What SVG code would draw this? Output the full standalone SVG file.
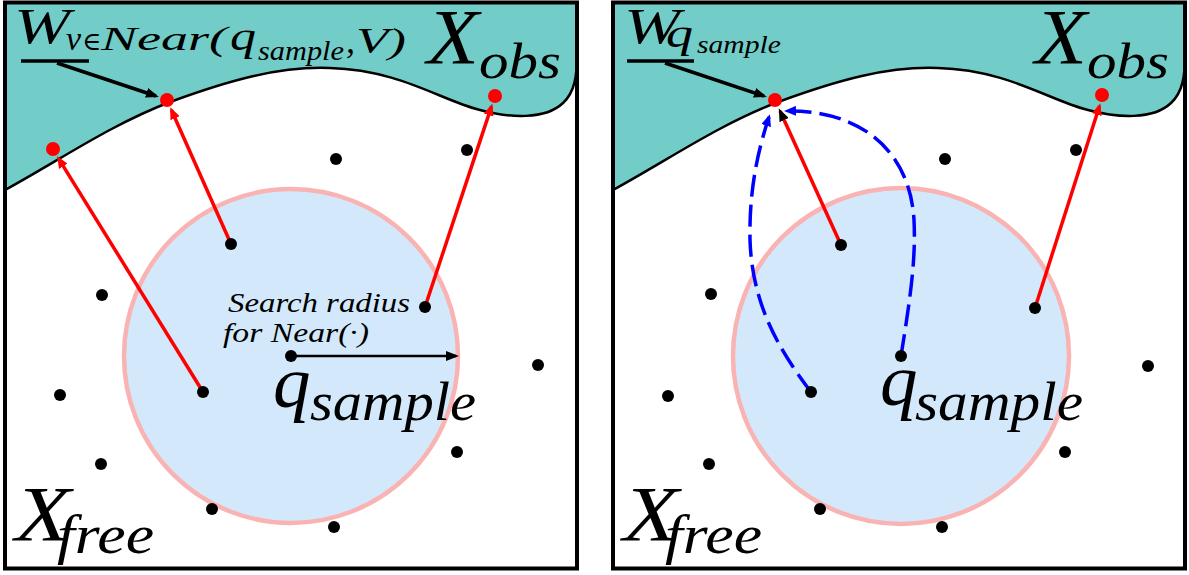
<svg xmlns="http://www.w3.org/2000/svg" width="1189" height="575" viewBox="0 0 1189 575">
<style>
.teal{fill:#72cdc8;stroke:none}
.edge{fill:none;stroke:#000;stroke-width:2.5}
.frame{fill:none;stroke:#000;stroke-width:4}
.ball{fill:#d3e9fb;stroke:#f9b3b3;stroke-width:4.5}
.dot{fill:#000}
.rdot{fill:#ff0000}
.red{stroke:#ff0000;stroke-width:3.5;fill:none}
.blk{stroke:#000;stroke-width:3.5;fill:none}
.rad{stroke:#000;stroke-width:2.5;fill:none}
.blue{stroke:#0000ff;stroke-width:3.5;fill:none;stroke-dasharray:22 8}
</style>
<defs>
<marker id="ahRed" markerUnits="userSpaceOnUse" markerWidth="12" markerHeight="10" viewBox="0 0 12 10" refX="9" refY="5" orient="auto"><path d="M0,0 L12,5 L0,10 Z" fill="#ff0000"/></marker>
<marker id="ahBlk" markerUnits="userSpaceOnUse" markerWidth="13" markerHeight="10" viewBox="0 0 13 10" refX="10" refY="5" orient="auto"><path d="M0,0 L13,5 L0,10 Z" fill="#000"/></marker>
<marker id="ahBlue" markerUnits="userSpaceOnUse" markerWidth="12" markerHeight="10" viewBox="0 0 12 10" refX="9" refY="5" orient="auto"><path d="M0,0 L12,5 L0,10 Z" fill="#0000ff"/></marker>
<path id="obsFill" d="M5,190 C60,160 110,125 170,102 C230,80 280,66 330,68 C400,70 440,100 480,110 C510,118 545,120 563,103 C575,92 577,75 577,55 L577,3 L5,3 Z"/>
<path id="obsEdge" d="M5,190 C60,160 110,125 170,102 C230,80 280,66 330,68 C400,70 440,100 480,110 C510,118 545,120 563,103 C575,92 577,75 577,55"/>
</defs>
<rect width="1189" height="575" fill="#fff"/>

<!-- LEFT PANEL -->
<g id="panel-left">
  <g id="L-obstacle">
    <use href="#obsFill" class="teal"/>
    <use href="#obsEdge" class="edge"/>
  </g>
  <g id="L-near-region"><circle cx="291" cy="356" r="167" class="ball"/></g>
  <g id="L-connectors">
    <line x1="203" y1="392" x2="58.6" y2="158.6" class="red" marker-end="url(#ahRed)"/>
    <line x1="231" y1="244" x2="171.4" y2="110" class="red" marker-end="url(#ahRed)"/>
    <line x1="425" y1="307" x2="491.5" y2="106.4" class="red" marker-end="url(#ahRed)"/>
    <line x1="291" y1="356" x2="456" y2="356" class="rad" marker-end="url(#ahBlk)"/>
    <line x1="21" y1="61" x2="89" y2="61" class="blk"/>
    <line x1="57" y1="63" x2="156" y2="96" class="blk" marker-end="url(#ahBlk)"/>
  </g>
  <g id="L-red-1"><circle cx="53" cy="149" r="7" class="rdot"/></g>
  <g id="L-red-2"><circle cx="167" cy="100" r="7" class="rdot"/></g>
  <g id="L-red-3"><circle cx="495" cy="96" r="7" class="rdot"/></g>
  <g id="L-d1"><circle cx="336" cy="159" r="6" class="dot"/></g>
  <g id="L-d2"><circle cx="467" cy="150" r="6" class="dot"/></g>
  <g id="L-d3"><circle cx="231" cy="244" r="6" class="dot"/></g>
  <g id="L-d4"><circle cx="102" cy="295" r="6" class="dot"/></g>
  <g id="L-d5"><circle cx="425" cy="307" r="6" class="dot"/></g>
  <g id="L-qsample"><circle cx="291" cy="356" r="6" class="dot"/></g>
  <g id="L-d7"><circle cx="538" cy="365" r="6" class="dot"/></g>
  <g id="L-d8"><circle cx="60" cy="395" r="6" class="dot"/></g>
  <g id="L-d9"><circle cx="203" cy="392" r="6" class="dot"/></g>
  <g id="L-d10"><circle cx="457" cy="452" r="6" class="dot"/></g>
  <g id="L-d11"><circle cx="101" cy="464" r="6" class="dot"/></g>
  <g id="L-d12"><circle cx="212" cy="509" r="6" class="dot"/></g>
  <g id="L-d13"><circle cx="334" cy="527" r="6" class="dot"/></g>
  <g id="L-labels" font-family="Liberation Serif" font-style="italic" fill="#000">
    <text x="14" y="43" font-size="50" textLength="56" lengthAdjust="spacingAndGlyphs">W</text>
    <text x="66" y="50" font-size="34">v</text>
    <text x="82" y="50" font-size="26" font-family="DejaVu Serif" font-style="normal">∈</text>
    <text x="101" y="50" font-size="34" textLength="126" lengthAdjust="spacingAndGlyphs">Near(</text>
    <text x="230" y="50" font-size="40" textLength="26" lengthAdjust="spacingAndGlyphs">q</text>
    <text x="258" y="60" font-size="28" textLength="86" lengthAdjust="spacingAndGlyphs">sample</text>
    <text x="346" y="53" font-size="36">,</text>
    <text x="356" y="53" font-size="36" textLength="50" lengthAdjust="spacingAndGlyphs">V)</text>
    <text x="427" y="63" font-size="78" textLength="52" lengthAdjust="spacingAndGlyphs">X</text>
    <text x="479" y="78" font-size="51" textLength="82" lengthAdjust="spacingAndGlyphs">obs</text>
    <text x="15" y="540" font-size="78" textLength="56" lengthAdjust="spacingAndGlyphs">X</text>
    <text x="57" y="553" font-size="55" textLength="97" lengthAdjust="spacingAndGlyphs">free</text>
    <text x="273" y="407" font-size="75">q</text>
    <text x="310" y="420" font-size="54" textLength="166" lengthAdjust="spacingAndGlyphs">sample</text>
    <text x="228" y="312" font-size="28" textLength="182" lengthAdjust="spacingAndGlyphs">Search radius</text>
    <text x="223" y="342" font-size="28" textLength="146" lengthAdjust="spacingAndGlyphs">for Near(·)</text>
  </g>
  <rect id="L-frame" x="5" y="2.5" width="572" height="566" class="frame"/>
</g>

<!-- RIGHT PANEL -->
<g id="panel-right" transform="translate(608,0)">
  <g id="R-obstacle">
    <use href="#obsFill" class="teal"/>
    <use href="#obsEdge" class="edge"/>
  </g>
  <g id="R-near-region"><circle cx="293" cy="356" r="168" class="ball"/></g>
  <g id="R-connectors">
    <line x1="233" y1="245" x2="172" y2="111" class="red" marker-end="url(#ahBlk)"/>
    <line x1="427" y1="308" x2="491.5" y2="106" class="red" marker-end="url(#ahRed)"/>
    <path d="M203,392 C167,345 144,300 142,240 C141,190 150,150 161,117" class="blue" marker-end="url(#ahBlue)"/>
    <path d="M293,356 C302,300 308,260 306,220 C302,150 252,110 179,111" class="blue" marker-end="url(#ahBlue)"/>
    <line x1="19" y1="61" x2="86" y2="61" class="blk"/>
    <line x1="57" y1="63" x2="156" y2="96" class="blk" marker-end="url(#ahBlk)"/>
  </g>
  <g id="R-red-2"><circle cx="167" cy="100" r="7" class="rdot"/></g>
  <g id="R-red-3"><circle cx="494" cy="95" r="7" class="rdot"/></g>
  <g id="R-d1"><circle cx="337" cy="159" r="6" class="dot"/></g>
  <g id="R-d2"><circle cx="468" cy="150" r="6" class="dot"/></g>
  <g id="R-d3"><circle cx="233" cy="245" r="6" class="dot"/></g>
  <g id="R-d4"><circle cx="103" cy="294" r="6" class="dot"/></g>
  <g id="R-d5"><circle cx="427" cy="308" r="6" class="dot"/></g>
  <g id="R-qsample"><circle cx="293" cy="356" r="6" class="dot"/></g>
  <g id="R-d7"><circle cx="540" cy="366" r="6" class="dot"/></g>
  <g id="R-d8"><circle cx="60" cy="396" r="6" class="dot"/></g>
  <g id="R-d9"><circle cx="203" cy="392" r="6" class="dot"/></g>
  <g id="R-d10"><circle cx="457" cy="452" r="6" class="dot"/></g>
  <g id="R-d11"><circle cx="101" cy="464" r="6" class="dot"/></g>
  <g id="R-d12"><circle cx="212" cy="509" r="6" class="dot"/></g>
  <g id="R-d13"><circle cx="334" cy="527" r="6" class="dot"/></g>
  <g id="R-labels" font-family="Liberation Serif" font-style="italic" fill="#000">
    <text x="16" y="43" font-size="50" textLength="56" lengthAdjust="spacingAndGlyphs">W</text>
    <text x="58" y="47" font-size="42" textLength="27" lengthAdjust="spacingAndGlyphs">q</text>
    <text x="89" y="53" font-size="26" textLength="84" lengthAdjust="spacingAndGlyphs">sample</text>
    <text x="427" y="63" font-size="78" textLength="52" lengthAdjust="spacingAndGlyphs">X</text>
    <text x="479" y="78" font-size="51" textLength="82" lengthAdjust="spacingAndGlyphs">obs</text>
    <text x="15" y="540" font-size="78" textLength="56" lengthAdjust="spacingAndGlyphs">X</text>
    <text x="57" y="553" font-size="55" textLength="97" lengthAdjust="spacingAndGlyphs">free</text>
    <text x="272" y="405" font-size="75">q</text>
    <text x="307" y="420" font-size="54" textLength="168" lengthAdjust="spacingAndGlyphs">sample</text>
  </g>
  <rect id="R-frame" x="5" y="2.5" width="572" height="566" class="frame"/>
</g>
</svg>
